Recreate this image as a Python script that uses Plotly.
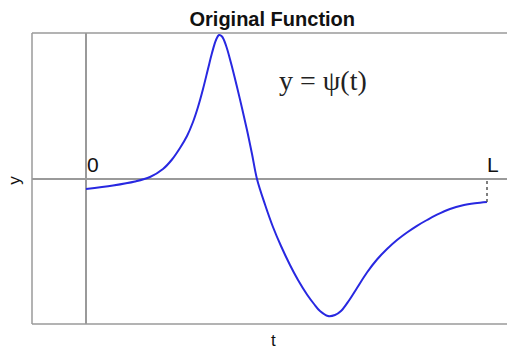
import plotly.graph_objects as go

# Sampled values of the wavelet-like function psi(t) on [0, L] (L = 1)
t_vals = [0.0, 0.0673, 0.1222, 0.1596, 0.1920, 0.2145, 0.2344, 0.2519, 0.2668, 0.2793,
          0.2918, 0.3042, 0.3142, 0.3242, 0.3317, 0.3392, 0.3491, 0.3616, 0.3766, 0.3890,
          0.4015, 0.4140, 0.4264, 0.4464, 0.4663, 0.4863, 0.5087, 0.5287, 0.5511, 0.5686,
          0.5835, 0.6035, 0.6209, 0.6359, 0.6559, 0.6758, 0.7007, 0.7257, 0.7506, 0.7756,
          0.8005, 0.8254, 0.8504, 0.8753, 0.9077, 0.9401, 0.9701, 1.0]
psi_vals = [-0.10, -0.065, -0.025, 0.02, 0.10, 0.195, 0.31, 0.43, 0.57, 0.72,
            0.90, 1.10, 1.26, 1.39, 1.44, 1.425, 1.335, 1.16, 0.92, 0.71,
            0.49, 0.25, 0.00, -0.255, -0.48, -0.67, -0.86, -1.01, -1.155, -1.25,
            -1.32, -1.37, -1.36, -1.32, -1.215, -1.09, -0.935, -0.805, -0.70, -0.61,
            -0.535, -0.468, -0.41, -0.357, -0.30, -0.263, -0.243, -0.23]
L_value = 1.0

axis_grey = "#9a9a9a"
text_font = "Liberation Sans, Arial, sans-serif"

fig = go.Figure()

# the function itself
fig.add_trace(go.Scatter(
    x=t_vals, y=psi_vals, mode="lines",
    line=dict(color="rgb(40,40,225)", width=2, shape="spline", smoothing=1.0),
    hoverinfo="skip", showlegend=False,
))

# dotted drop from the end value to the axis at t = L
fig.add_trace(go.Scatter(
    x=[L_value, L_value], y=[psi_vals[-1], 0], mode="lines",
    line=dict(color="#555555", width=1.5, dash="dot"),
    hoverinfo="skip", showlegend=False,
))

# frame: left, top and bottom edges only
for x0, y0, x1, y1 in [(0, 0, 0, 1), (0, 1, 1, 1), (0, 0, 1, 0)]:
    fig.add_shape(type="line", xref="paper", yref="paper", x0=x0, y0=y0, x1=x1, y1=y1,
                  line=dict(color=axis_grey, width=1.5), layer="below")

fig.add_annotation(x=0, y=0, xref="x", yref="y", text="0", showarrow=False,
                   xanchor="left", yanchor="bottom", xshift=-1, yshift=1,
                   font=dict(family=text_font, size=21, color="#111111"))
fig.add_annotation(x=L_value, y=0, xref="x", yref="y", text="L", showarrow=False,
                   xanchor="left", yanchor="bottom", xshift=-2, yshift=1,
                   font=dict(family=text_font, size=21, color="#111111"))
fig.add_annotation(x=0.591, y=0.99, xref="x", yref="y", text="y\u00a0=\u00a0ψ(t)", showarrow=False,
                   xanchor="center", yanchor="middle",
                   font=dict(family="Liberation Serif, Times New Roman, serif", size=28, color="#222222"))

# axis labels
fig.add_annotation(x=0.509, y=-0.058, xref="paper", yref="paper", text="t", showarrow=False,
                   xanchor="center", yanchor="middle",
                   font=dict(family=text_font, size=17, color="#111111"))
fig.add_annotation(x=-0.036, y=0.495, xref="paper", yref="paper", text="y", showarrow=False,
                   textangle=-90, xanchor="center", yanchor="middle",
                   font=dict(family=text_font, size=17, color="#111111"))

fig.update_layout(
    width=507, height=349,
    margin=dict(l=32, r=0, t=33, b=25),
    paper_bgcolor="white", plot_bgcolor="white",
    title=dict(text="<b>Original Function</b>", x=0.537, xanchor="center",
               y=0.946, yanchor="middle",
               font=dict(family=text_font, size=20, color="#111111")),
    xaxis=dict(range=[-0.13466, 1.04988], showgrid=False, showticklabels=False,
               ticks="", zeroline=True, zerolinecolor=axis_grey, zerolinewidth=1.5,
               showline=False),
    yaxis=dict(range=[-1.45, 1.46], showgrid=False, showticklabels=False,
               ticks="", zeroline=True, zerolinecolor=axis_grey, zerolinewidth=1.5,
               showline=False),
)

fig.write_html("out.html")
